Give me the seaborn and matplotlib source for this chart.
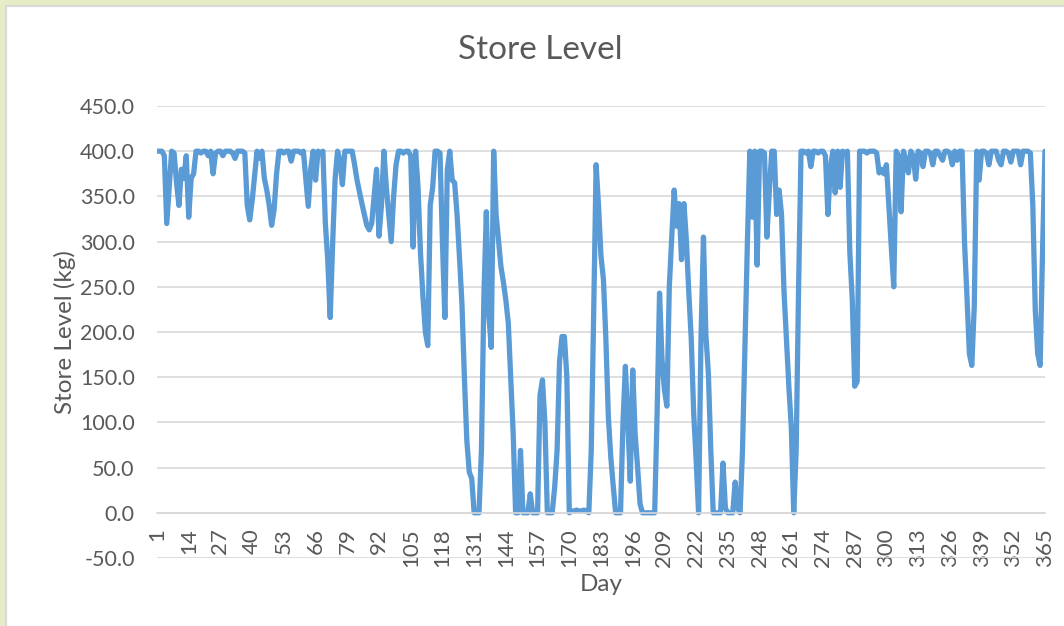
import numpy as np
import pandas as pd
import matplotlib
matplotlib.use("Agg")
import matplotlib.pyplot as plt
import seaborn as sns
from matplotlib.patches import Rectangle
from matplotlib.ticker import FormatStrFormatter

# daily store level (kg)
days = list(range(1, 366))
store_level = [
    400, 400, 400, 395, 320, 360, 400, 398, 365, 340, 380, 370, 395,   # 1-13
    327, 370, 375, 400, 400, 398, 400, 400, 395, 400, 375, 398, 400,   # 14-26
    400, 395, 400, 400, 400, 398, 392, 400, 400, 400, 398, 340, 324,   # 27-39
    345, 372, 400, 392, 400, 370, 357, 340, 318, 335, 375, 400, 400,   # 40-52
    398, 400, 400, 389, 400, 400, 400, 398, 400, 370, 339, 380, 400,   # 53-65
    368, 400, 398, 400, 321, 279, 216, 298, 369, 400, 390, 363, 400,   # 66-78
    400, 400, 400, 385, 368, 355, 342, 330, 318, 313, 320, 350, 380,   # 79-91
    306, 340, 400, 360, 330, 300, 350, 385, 400, 400, 398, 400, 400,   # 92-104
    395, 294, 400, 360, 288, 240, 200, 185, 340, 360, 400, 400, 398,   # 105-117
    300, 216, 380, 400, 368, 365, 330, 282, 231, 150, 80, 45, 38,      # 118-130
    0, 0, 0, 70, 240, 333, 220, 183, 400, 330, 301, 272, 255,          # 131-143
    235, 210, 150, 88, 0, 0, 69, 0, 0, 0, 21, 0, 0,                    # 144-156
    0, 130, 147, 100, 0, 0, 0, 28, 69, 167, 195, 195, 150,             # 157-169
    0, 2, 2, 3, 2, 2, 3, 2, 0, 69, 221, 385, 339,                      # 170-182
    284, 258, 192, 107, 62, 30, 0, 0, 0, 99, 162, 100, 35,             # 183-195
    158, 87, 50, 10, 0, 0, 0, 0, 0, 0, 110, 243, 170,                  # 196-208
    136, 118, 250, 305, 357, 317, 342, 280, 342, 301, 243, 192, 110,   # 209-221
    58, 0, 195, 305, 196, 155, 70, 0, 0, 0, 0, 55, 5,                  # 222-234
    0, 0, 0, 34, 5, 0, 69, 183, 298, 400, 327, 400, 274,               # 235-247
    400, 400, 398, 305, 357, 400, 400, 330, 357, 330, 246, 192, 140,   # 248-260
    95, 0, 69, 250, 400, 400, 398, 400, 383, 400, 400, 398, 400,       # 261-273
    400, 395, 330, 380, 400, 354, 400, 360, 400, 398, 400, 288, 236,   # 274-286
    140, 145, 400, 400, 400, 398, 400, 400, 400, 398, 376, 380, 375,   # 287-299
    385, 339, 294, 250, 400, 395, 333, 400, 390, 376, 400, 395, 369,   # 300-312
    400, 398, 383, 400, 400, 398, 385, 400, 400, 395, 390, 400, 400,   # 313-325
    398, 385, 400, 390, 400, 400, 300, 240, 176, 163, 228, 400, 368,   # 326-338
    400, 400, 398, 385, 400, 400, 400, 390, 385, 400, 400, 398, 388,   # 339-351
    400, 400, 400, 385, 400, 400, 400, 398, 340, 225, 176, 163, 290,   # 352-364
    400,                                                               # 365
]
x_ticks = list(range(1, 366, 13))
y_ticks = list(range(-50, 451, 50))

df = pd.DataFrame({"Day": days, "Store Level (kg)": store_level})

sns.set_theme(style="whitegrid")
plt.rcParams["font.family"] = ["Lato", "DejaVu Sans"]
grey_txt = "#595959"
grid_col = "#D9D9D9"

fig = plt.figure(figsize=(10.64, 6.26), dpi=100)
fig.patch.set_facecolor("#E6ECC6")
# white chart area with a thin border, sheet colour showing top/left
fig.add_artist(Rectangle((6 / 1064, -0.05), 1.1, 0.05 + 620 / 626,
                         transform=fig.transFigure, facecolor="white",
                         edgecolor=grid_col, lw=1.5, zorder=-1))

ax = fig.add_axes([157 / 1064, 68 / 626, 888 / 1064, 452 / 626])
ax.set_facecolor("white")

sns.lineplot(data=df, x="Day", y="Store Level (kg)", ax=ax,
             color="#5B9BD5", linewidth=3.8,
             solid_joinstyle="round", solid_capstyle="round")

ax.set_xlim(1, 365)
ax.set_ylim(-50, 450)
ax.set_xticks(x_ticks)
ax.set_yticks(y_ticks)
ax.yaxis.set_major_formatter(FormatStrFormatter("%.1f"))
ax.tick_params(axis="x", rotation=90, labelsize=16, colors=grey_txt,
               length=0, pad=11)
ax.tick_params(axis="y", labelsize=15.5, colors=grey_txt, length=0, pad=16)

ax.grid(axis="y", color=grid_col, lw=1.2)
ax.grid(axis="x", visible=False)
for s in ["top", "right", "left"]:
    ax.spines[s].set_visible(False)
ax.spines["bottom"].set_position(("data", 0))
ax.spines["bottom"].set_color(grid_col)
ax.spines["bottom"].set_linewidth(1.2)

ax.set_xlabel("Day", fontsize=17.5, color=grey_txt, labelpad=5)
ax.set_ylabel("Store Level (kg)", fontsize=17.5, color=grey_txt, labelpad=3)

fig.suptitle("Store Level", x=540 / 1064, y=1 - 50 / 626, va="center",
             fontsize=24, color=grey_txt)

fig.savefig("out.png", dpi=100, facecolor=fig.get_facecolor())
